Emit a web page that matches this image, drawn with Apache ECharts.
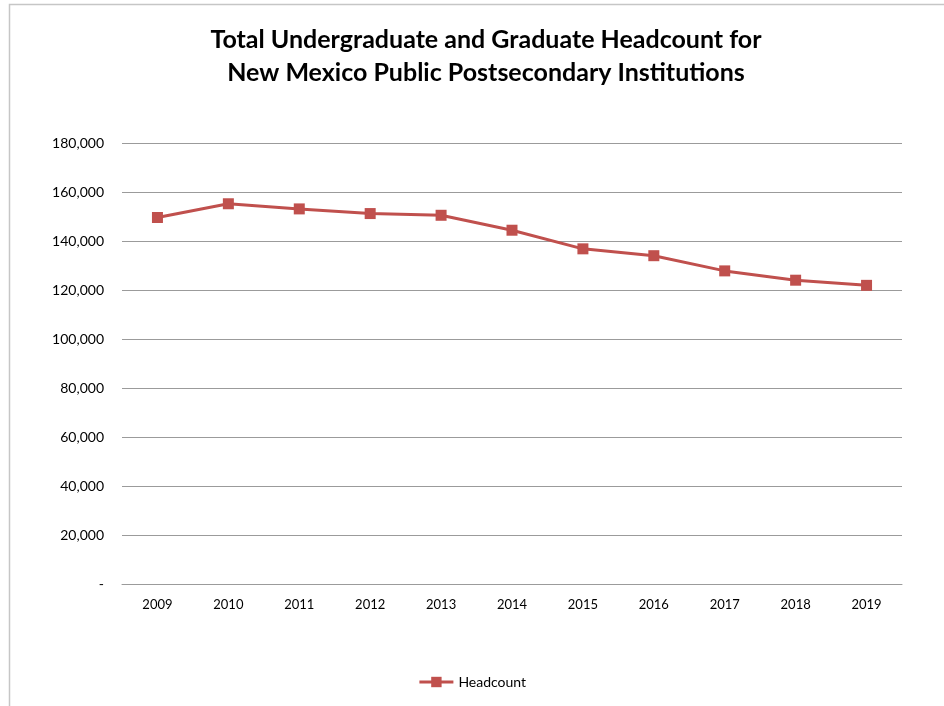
<!DOCTYPE html>
<html>
<head>
<meta charset="utf-8">
<script src="https://cdn.jsdelivr.net/npm/echarts@6/dist/echarts.min.js"></script>
<style>
html,body{margin:0;padding:0;background:#fff;}
#c{width:944px;height:706px;}
</style>
</head>
<body>
<div id="c"></div>
<script>
const titleLines = ['Total Undergraduate and Graduate Headcount for', 'New Mexico Public Postsecondary Institutions'];
const years = ['2009','2010','2011','2012','2013','2014','2015','2016','2017','2018','2019'];
const headcount = [149600, 155200, 153100, 151200, 150500, 144400, 136800, 134000, 127800, 124000, 121900];
const seriesName = 'Headcount';
const yMin = 0, yMax = 180000, yStep = 20000;

const FONT = 'Lato, "Open Sans", sans-serif';
const chart = echarts.init(document.getElementById('c'));
chart.setOption({
  backgroundColor: '#fff',
  animation: false,
  graphic: [{
    type: 'rect', left: 7, top: 2, z: -1,
    shape: { x: 0, y: 0, width: 1000, height: 800 },
    style: { fill: 'none', stroke: '#c6c6c6', lineWidth: 1.5 }
  }],
  title: {
    text: titleLines.join('\n'),
    left: 481, top: 18, textAlign: 'center',
    textStyle: { fontFamily: FONT, fontWeight: 'bold', fontSize: 25, lineHeight: 33, color: '#000' }
  },
  legend: {
    bottom: 12, left: 'center',
    itemWidth: 34, itemHeight: 13, itemGap: 4,
    textStyle: { fontFamily: FONT, fontSize: 14, color: '#000' },
    lineStyle: { width: 3 },
    data: [seriesName]
  },
  grid: { left: 122, right: 42, top: 143, bottom: 122 },
  xAxis: {
    type: 'category', data: years, boundaryGap: true,
    axisLine: { lineStyle: { color: '#9b9b9b', width: 1 } },
    axisTick: { show: false },
    axisLabel: { fontFamily: FONT, fontSize: 13, color: '#000', margin: 14 }
  },
  yAxis: {
    type: 'value', min: yMin, max: yMax, interval: yStep,
    axisLine: { show: false },
    axisTick: { show: false },
    splitLine: { lineStyle: { color: '#9b9b9b', width: 1 } },
    axisLabel: {
      fontFamily: FONT, fontSize: 14, color: '#000', margin: 18,
      formatter: v => v === 0 ? '-' : v.toLocaleString('en-US')
    }
  },
  series: [{
    name: seriesName, type: 'line', data: headcount,
    symbol: 'rect', symbolSize: 11,
    lineStyle: { color: '#c0504d', width: 3 },
    itemStyle: { color: '#c0504d' }
  }]
});
</script>
</body>
</html>
